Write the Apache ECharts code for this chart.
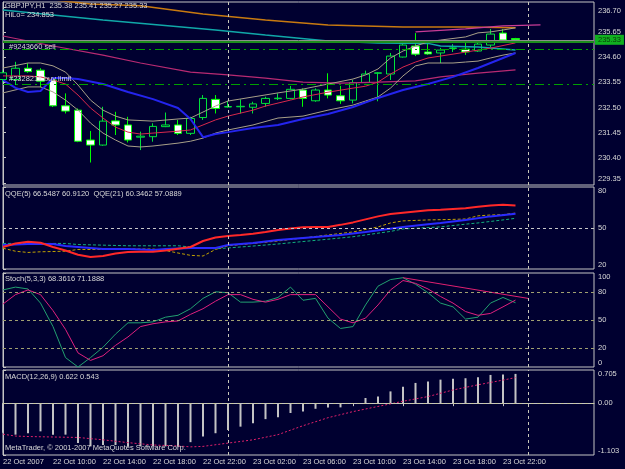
<!DOCTYPE html>
<html>
<head>
<meta charset="utf-8">
<style>
  html, body { margin: 0; padding: 0; background: #000030; }
  #chart { width: 625px; height: 469px; }
</style>
<script src="https://cdn.jsdelivr.net/npm/echarts@6/dist/echarts.min.js"></script>
</head>
<body>
<div id="chart"></div>
<script>
// GBPJPY H1, bar index = hours since 22 Oct 2007 06:00
const timeTicks = [0, 4, 8, 12, 16, 20, 24, 28, 32, 36, 40];
const timeLabels = ['22 Oct 2007', '22 Oct 10:00', '22 Oct 14:00', '22 Oct 18:00', '22 Oct 22:00',
  '23 Oct 02:00', '23 Oct 06:00', '23 Oct 10:00', '23 Oct 14:00', '23 Oct 18:00', '23 Oct 22:00'];
const dayBreaks = [18, 42];

const candleOpen = [233.67, 233.67, 234.14, 234.06, 233.65, 232.57, 232.39, 231.14, 230.93, 231.94,
  231.77, 231.26, 231.28, 231.70, 231.77, 231.42, 232.08, 232.84, 232.52, 232.53,
  232.51, 232.67, 232.87, 232.88, 233.23, 232.78, 233.23, 232.99, 232.81, 233.54,
  233.93, 233.90, 234.61, 235.07, 234.82, 234.78, 234.97, 234.94, 234.86, 235.11,
  235.61, 235.38];
const candleClose = [233.95, 234.14, 234.00, 233.60, 232.57, 232.35, 231.09, 230.93, 231.93, 231.77,
  231.14, 231.30, 231.71, 231.77, 231.42, 232.04, 232.88, 232.46, 232.54, 232.55,
  232.65, 232.88, 232.89, 233.26, 232.88, 233.23, 233.02, 232.78, 233.54, 233.90,
  233.95, 234.65, 235.11, 234.73, 234.74, 234.90, 234.99, 234.82, 235.15, 235.57,
  235.32, 235.33];
const candleLow = [233.55, 233.44, 233.95, 233.34, 232.52, 232.25, 231.05, 230.20, 230.90, 231.35,
  231.04, 230.72, 231.07, 231.68, 231.35, 231.35, 231.98, 232.25, 232.50, 232.25,
  232.25, 232.53, 232.81, 232.84, 232.53, 232.74, 232.88, 232.65, 232.67, 233.52,
  232.76, 233.65, 234.59, 234.65, 234.70, 234.36, 234.82, 234.70, 234.82, 235.03,
  235.28, 235.27];
const candleHigh = [234.05, 234.41, 234.35, 234.14, 233.72, 233.09, 232.46, 231.52, 232.53, 232.32,
  232.11, 231.49, 231.84, 232.29, 231.98, 232.11, 233.02, 233.02, 232.78, 232.84,
  232.74, 232.95, 233.09, 233.40, 233.30, 233.30, 233.93, 233.40, 233.65, 234.04,
  233.98, 234.78, 235.20, 235.61, 235.20, 234.99, 235.15, 235.20, 235.24, 235.78,
  235.78, 235.41];

// main panel overlays, [bar, price]
const orangeMa = [[0, 237.30], [4, 237.00], [7, 236.83], [11, 236.75], [16, 236.41], [21, 236.16],
  [26, 235.95], [32, 235.87], [37, 235.87], [41, 235.83]];
const cyanMa = [[0, 236.58], [8, 236.16], [17, 235.74], [21, 235.53], [26, 235.28], [30, 235.20],
  [34, 235.18], [35, 235.07], [38, 235.03], [41, 234.90]];
const pinkMa = [[0, 235.49], [4, 235.07], [8, 234.69], [11, 234.36], [15, 233.98], [18, 233.86],
  [21, 233.73], [24, 233.56], [27, 233.52], [30, 233.56], [33, 233.61], [35, 233.78],
  [38, 233.94], [41, 234.07]];
const upperPink = [[33, 235.66], [37, 235.79], [40, 235.91], [43, 235.95]];
const blueMa = [[0, 233.65], [1, 233.32], [2, 233.15], [3, 233.19], [4, 233.73], [5, 233.73],
  [6, 233.69], [8, 233.48], [10, 233.15], [12, 232.85], [14, 232.48], [15, 232.02],
  [16, 231.26], [17, 231.39], [18, 231.47], [20, 231.64], [22, 231.77], [24, 232.02],
  [26, 232.23], [28, 232.52], [30, 232.90], [32, 233.23], [34, 233.48], [36, 233.78],
  [38, 234.15], [40, 234.57], [41, 234.78]];
const bandUpper = [[0, 234.15], [2, 234.36], [3, 234.36], [4, 234.24], [5, 233.98], [6, 233.44],
  [7, 232.81], [8, 232.39], [9, 232.14], [10, 231.98], [12, 231.93], [14, 232.02],
  [15, 232.06], [16, 232.31], [17, 232.56], [18, 232.77], [20, 232.94], [22, 233.11],
  [24, 233.27], [26, 233.48], [28, 233.69], [29, 233.86], [30, 234.11], [31, 234.57],
  [32, 234.86], [33, 235.07], [34, 235.24], [35, 235.32], [37, 235.45], [38, 235.62],
  [39, 235.66], [40, 235.74], [41, 235.83]];
const bandMiddle = [[0, 233.82], [2, 233.82], [3, 233.78], [4, 233.65], [5, 233.48], [6, 233.02],
  [7, 232.48], [8, 232.06], [9, 231.68], [10, 231.47], [11, 231.39], [12, 231.43],
  [14, 231.51], [15, 231.56], [16, 231.77], [17, 231.98], [18, 232.14], [20, 232.39],
  [21, 232.56], [23, 232.81], [24, 232.94], [26, 233.14], [28, 233.31], [29, 233.39],
  [30, 233.56], [31, 233.90], [32, 234.19], [33, 234.40], [34, 234.57], [36, 234.73],
  [38, 234.90], [39, 234.98], [41, 235.20]];
const bandLower = [[0, 233.11], [2, 233.36], [3, 233.36], [4, 233.15], [5, 232.81], [6, 232.39],
  [7, 231.85], [8, 231.43], [9, 231.14], [10, 230.89], [11, 230.85], [12, 230.89],
  [14, 231.01], [15, 231.09], [16, 231.22], [17, 231.43], [18, 231.56], [20, 231.77],
  [22, 232.06], [24, 232.14], [26, 232.39], [28, 232.60], [29, 232.77], [30, 232.94],
  [31, 233.31], [32, 233.82], [33, 234.24], [34, 234.36], [36, 234.36], [37, 234.40],
  [38, 234.44], [39, 234.57], [40, 234.69], [41, 234.78]];

const priceTicks = [229.35, 230.40, 231.45, 232.50, 233.55, 234.60, 235.65, 236.70];
const sellLevel = 235.24;
const bidLevel = 235.33;
const stopLevel = 234.95;
const limitLevel = 233.48;

// QQE
const qqe5Main = [36.1, 38.7, 40.0, 39.2, 36.1, 33.5, 30.4, 28.8, 29.5, 31.3, 32.4, 32.6, 32.6, 33.5,
  34.8, 36.1, 40.5, 43.1, 44.2, 44.9, 45.8, 47.1, 48.6, 49.7, 50.6, 50.8, 50.8, 52.3,
  54.1, 56.3, 58.5, 60.2, 61.1, 62.0, 62.9, 63.3, 63.9, 64.5, 65.5, 66.5, 67.0, 66.55];
const qqe5Trail = [[0, 35.2], [1, 33.0], [2, 32.1], [3, 32.6], [5, 33.0], [6, 34.3], [8, 34.3],
  [10, 34.6], [12, 34.6], [13, 33.5], [14, 31.7], [15, 30.0], [16, 29.5], [17, 34.3],
  [18, 37.0], [20, 38.7], [22, 40.5], [24, 42.7], [26, 44.9], [28, 47.1], [30, 50.8],
  [31, 53.7], [32, 55.2], [34, 55.9], [36, 56.3], [37, 56.6], [38, 58.9], [39, 59.5],
  [40, 59.8], [41, 60.91]];
const qqe21Main = [[0, 37.6], [2, 38.3], [4, 38.3], [5, 36.8], [7, 35.4], [8, 34.6], [10, 34.6],
  [12, 33.9], [13, 34.6], [15, 35.4], [17, 35.4], [18, 37.6], [20, 39.0], [22, 41.2],
  [24, 42.7], [25, 43.4], [27, 44.9], [29, 47.1], [32, 50.8], [34, 52.8], [35, 53.7],
  [37, 55.9], [39, 58.5], [41, 60.35]];
const qqe21Trail = [[0, 38.7], [5, 38.7], [6, 37.9], [10, 37.0], [14, 37.0], [15, 36.1], [16, 35.2],
  [17, 34.8], [18, 35.4], [20, 36.8], [22, 38.3], [24, 40.1], [26, 41.8], [28, 43.6],
  [29, 44.9], [31, 47.5], [32, 49.3], [35, 50.8], [37, 52.8], [38, 53.7], [40, 55.9],
  [41, 57.09]];
const qqeTicks = [20, 50, 80];

// Stochastic
const stochMain = [82, 85, 83, 68, 43, 10, 0, 10, 21, 35, 47, 47, 48, 53, 55, 62, 73, 80, 79, 69,
  69, 70, 74, 85, 71, 73, 52, 41, 43, 66, 86, 93, 95, 88, 79, 68, 64, 51, 53, 68, 74, 68.36];
const stochSignal = [67, 77, 82, 77, 60, 40, 15, 7, 12, 23, 32, 43, 46, 48, 49, 56, 62, 70, 77, 77,
  72, 69, 72, 77, 77, 77, 64, 51, 47, 52, 66, 82, 92, 89, 83, 75, 68, 59, 55, 57, 64, 71.19];
const stochTrend = [[32, 95], [42, 73]];
const stochTicks = [0, 20, 50, 80, 100];
const stochLevels = [20, 50, 80];

// MACD
const macdHist = [-0.63, -0.67, -0.64, -0.60, -0.67, -0.67, -0.85, -0.92, -0.89, -0.89, -0.92, -0.92,
  -0.92, -0.92, -0.92, -0.83, -0.71, -0.64, -0.57, -0.50, -0.43, -0.34, -0.30, -0.21,
  -0.18, -0.12, -0.09, -0.09, -0.02, 0.11, 0.14, 0.25, 0.35, 0.43, 0.46, 0.50, 0.52,
  0.53, 0.55, 0.60, 0.61, 0.622];
const macdSignal = [[0, -0.66], [1, -0.70], [2, -0.71], [4, -0.72], [6, -0.73], [8, -0.78],
  [10, -0.84], [12, -0.89], [14, -0.91], [15, -0.93], [16, -0.92], [18, -0.85],
  [20, -0.78], [22, -0.67], [24, -0.48], [26, -0.31], [28, -0.18], [30, -0.07],
  [32, 0.04], [34, 0.14], [36, 0.28], [38, 0.39], [40, 0.49], [41, 0.543]];
const macdTicks = [-1.103, 0, 0.705];

const BG = '#000030';
const TEXT = '#d8d8d8';
const FRAME = '#c4c4c4';
const FONT = '"Liberation Sans", Arial, sans-serif';
const FS = 7.5;
const X_MAX = 47.28;

const chart = echarts.init(document.getElementById('chart'));

const grids = [
  { top: 2, height: 183 },
  { top: 187, height: 82 },
  { top: 273, height: 94 },
  { top: 370, height: 85 },
].map(g => Object.assign({ left: 3, right: 31, show: true, borderColor: FRAME, borderWidth: 1, backgroundColor: 'transparent' }, g));

function xAxisFor(i) {
  const shown = i === 3;
  return {
    type: 'value', gridIndex: i, min: 0, max: X_MAX,
    splitLine: { show: false },
    axisLine: { show: shown, lineStyle: { color: FRAME } },
    axisTick: { show: shown, customValues: timeTicks, length: 3, lineStyle: { color: FRAME } },
    axisLabel: {
      show: shown, customValues: timeTicks, align: 'left', margin: 3,
      color: TEXT, fontSize: FS, fontFamily: FONT,
      formatter: v => timeLabels[timeTicks.indexOf(v)],
    },
  };
}

function yAxisFor(i, min, max, ticks, fmt) {
  return {
    type: 'value', gridIndex: i, position: 'right', min, max,
    splitLine: { show: false },
    axisLine: { show: true, lineStyle: { color: FRAME } },
    axisTick: { show: true, customValues: ticks, length: 3, lineStyle: { color: FRAME } },
    axisLabel: {
      customValues: ticks, margin: 4, color: TEXT, fontSize: FS, fontFamily: FONT,
      formatter: fmt, verticalAlignMinLabel: 'bottom', verticalAlignMaxLabel: 'top',
    },
  };
}

function dayLines() {
  return {
    silent: true, symbol: 'none', animation: false,
    label: { show: false },
    lineStyle: { color: '#c8c8b8', type: [3, 3], width: 1 },
    data: dayBreaks.map(x => ({ xAxis: x })),
  };
}

function line(grid, data, color, width, type, z) {
  return {
    type: 'line', xAxisIndex: grid, yAxisIndex: grid, data,
    symbol: 'none', silent: true, z: z || 3,
    lineStyle: { color, width, type: type || 'solid' },
  };
}

const lbl = (text, pos) => ({
  show: true, position: pos, formatter: text, color: TEXT,
  fontSize: FS, fontFamily: FONT, distance: [6, 1],
});

const candles = {
  type: 'candlestick', xAxisIndex: 0, yAxisIndex: 0, z: 2, barWidth: 8,
  encode: { x: 0, y: [1, 2, 3, 4] },
  data: candleOpen.map((o, i) => [i, o, candleClose[i], candleLow[i], candleHigh[i]]),
  itemStyle: { color: BG, color0: '#ffffff', borderColor: '#00e23a', borderColor0: '#00ff00', borderWidth: 1 },
  markLine: {
    silent: true, symbol: 'none', animation: false,
    data: [
      { xAxis: dayBreaks[0], lineStyle: { color: '#c8c8b8', type: [3, 3], width: 1 }, label: { show: false } },
      { xAxis: dayBreaks[1], lineStyle: { color: '#c8c8b8', type: [3, 3], width: 1 }, label: { show: false } },
      { yAxis: bidLevel, lineStyle: { color: '#8c8c8c', type: 'solid', width: 1 },
        label: { show: true, position: 'end', distance: 1, formatter: bidLevel.toFixed(2), color: '#0a3a0a',
          backgroundColor: '#10b020', padding: [1, 3, 1, 3], fontSize: FS, fontFamily: FONT } },
      { yAxis: sellLevel, lineStyle: { color: '#1c8c1c', type: 'solid', width: 2 },
        label: lbl('#9243660 sell', 'insideStartBottom') },
      { yAxis: stopLevel, lineStyle: { color: '#00a000', type: [9, 4, 2, 4], width: 1 }, label: { show: false } },
      { yAxis: limitLevel, lineStyle: { color: '#00a000', type: [9, 4, 2, 4], width: 1 },
        label: lbl('#2328211 buy limit', 'insideStartTop') },
    ],
  },
};

const series = [
  candles,
  line(0, orangeMa, '#c87a10', 1.5),
  line(0, cyanMa, '#10a8a8', 1.5),
  line(0, pinkMa, '#b82a72', 1.2),
  line(0, upperPink, '#c83c96', 1.2),
  line(0, bandUpper, '#a8a088', 1),
  line(0, bandLower, '#a8a088', 1),
  line(0, bandMiddle, '#d8284c', 1),
  line(0, blueMa, '#2424ee', 2),

  Object.assign(line(1, qqe21Trail, '#10b080', 1, [3, 2]), {
    markLine: {
      silent: true, symbol: 'none', animation: false, label: { show: false },
      data: [
        ...dayBreaks.map(x => ({ xAxis: x, lineStyle: { color: '#c8c8b8', type: [3, 3], width: 1 } })),
        { yAxis: 50, lineStyle: { color: '#c8c8c8', type: [3, 3], width: 1 } },
      ],
    },
  }),
  line(1, qqe5Trail, '#c0a000', 1, [3, 2]),
  line(1, qqe21Main, '#2a2aff', 2),
  line(1, qqe5Main.map((v, i) => [i, v]), '#ff2828', 2, 'solid', 4),

  Object.assign(line(2, stochMain.map((v, i) => [i, v]), '#22a070', 1), {
    markLine: {
      silent: true, symbol: 'none', animation: false, label: { show: false },
      data: [
        ...dayBreaks.map(x => ({ xAxis: x, lineStyle: { color: '#c8c8b8', type: [3, 3], width: 1 } })),
        ...stochLevels.map(v => ({ yAxis: v, lineStyle: { color: '#a0a070', type: [3, 3], width: 1 } })),
      ],
    },
  }),
  line(2, stochSignal.map((v, i) => [i, v]), '#e0207e', 1),
  line(2, stochTrend, '#e02070', 1),

  {
    type: 'bar', xAxisIndex: 3, yAxisIndex: 3, barWidth: 2, silent: true,
    data: macdHist.map((v, i) => [i, v]),
    itemStyle: { color: '#c4c4c4' },
    markLine: {
      silent: true, symbol: 'none', animation: false, label: { show: false },
      data: [
        ...dayBreaks.map(x => ({ xAxis: x, lineStyle: { color: '#c8c8b8', type: [3, 3], width: 1 } })),
        { yAxis: 0, lineStyle: { color: '#c8c8a0', type: [3, 3], width: 1 } },
      ],
    },
  },
  line(3, macdSignal, '#e0206a', 1, [2, 2], 4),
];

const titleStyle = { color: TEXT, fontSize: FS, fontWeight: 'normal', fontFamily: FONT };
const titles = [
  ['GBPJPY,H1  235.38 235.41 235.27 235.33', 2],
  ['HiLo= 234.853', 11],
  ['QQE(5) 66.5487 60.9120  QQE(21) 60.3462 57.0889', 190],
  ['Stoch(5,3,3) 68.3616 71.1888', 275],
  ['MACD(12,26,9) 0.622 0.543', 373],
  ['MetaTrader, \u00a9 2001-2007 MetaQuotes Software Corp.', 444],
].map(([text, top]) => ({ text, left: 5, top, padding: 0, textStyle: titleStyle }));

chart.setOption({
  backgroundColor: BG,
  animation: false,
  title: titles,
  grid: grids,
  xAxis: [0, 1, 2, 3].map(xAxisFor),
  yAxis: [
    yAxisFor(0, 229.26, 236.91, priceTicks, v => v.toFixed(2)),
    yAxisFor(1, 20, 80, qqeTicks, v => String(v)),
    yAxisFor(2, 0, 100, stochTicks, v => String(v)),
    yAxisFor(3, -1.103, 0.705, macdTicks, v => (v === 0 ? '0.00' : String(v))),
  ],
  series,
});
</script>
</body>
</html>
